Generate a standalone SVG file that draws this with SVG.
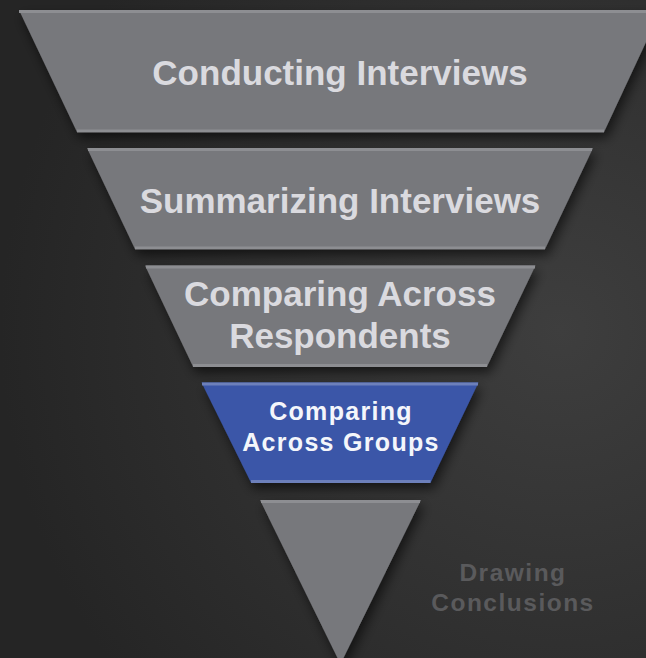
<svg xmlns="http://www.w3.org/2000/svg" width="646" height="658" viewBox="0 0 646 658">
<defs>
<radialGradient id="bg" cx="560" cy="330" r="560" gradientUnits="userSpaceOnUse">
<stop offset="0" stop-color="#3e3e3e"/>
<stop offset="1" stop-color="#252525"/>
</radialGradient>
<filter id="sh" x="-20%" y="-20%" width="140%" height="150%">
<feDropShadow dx="3" dy="6" stdDeviation="6" flood-color="#000" flood-opacity="0.6"/>
</filter>
<style>
.g{fill:#77787c}
.b{fill:#3a56a8}
.ge{stroke:#8d8e92;stroke-width:3}
.be{stroke:#6d80bb;stroke-width:3}
text{font-family:"Liberation Sans",Arial,Helvetica,sans-serif;font-weight:bold;text-anchor:middle}
.t{fill:#dadadf;font-size:35px}
.tb{fill:#f4f6fb;font-size:25px;letter-spacing:1.3px}
.td{fill:#5a5a5c;font-size:24.5px;letter-spacing:1.5px}
</style>
</defs>
<rect width="646" height="658" fill="url(#bg)"/>
<g id="connectors"/>
<g id="conducting-interviews">
<polygon class="g" filter="url(#sh)" points="19,10 661,10 604,132 77,132"/>
<line class="ge" x1="19" y1="11.5" x2="661" y2="11.5"/>
<line class="ge" x1="77" y1="131" x2="604" y2="131" stroke-width="2"/>
<text class="t" x="340" y="85">Conducting Interviews</text>
</g>
<g id="summarizing-interviews">
<polygon class="g" filter="url(#sh)" points="87,148 593,148 545,249 135,249"/>
<line class="ge" x1="88" y1="149.5" x2="592" y2="149.5"/>
<line class="ge" x1="135" y1="248" x2="545" y2="248" stroke-width="2"/>
<text class="t" x="340" y="213">Summarizing Interviews</text>
</g>
<g id="comparing-across-respondents">
<polygon class="g" filter="url(#sh)" points="145,265.5 535.5,265.5 487,366.5 193,366.5"/>
<line class="ge" x1="146" y1="267" x2="535" y2="267"/>
<line class="ge" x1="193" y1="365.5" x2="487" y2="365.5" stroke-width="2"/>
<text class="t" x="340" y="306">Comparing Across</text>
<text class="t" x="340" y="348">Respondents</text>
</g>
<g id="comparing-across-groups">
<polygon class="b" filter="url(#sh)" points="201.5,382.5 478.5,382.5 430.5,482.5 251,482.5"/>
<line class="be" x1="202" y1="384" x2="478" y2="384"/>
<line class="be" x1="251" y1="481.5" x2="430.5" y2="481.5" stroke-width="2"/>
<text class="tb" x="341" y="420">Comparing</text>
<text class="tb" x="341" y="451">Across Groups</text>
</g>
<g id="drawing-conclusions">
<polygon class="g" filter="url(#sh)" points="260,500 421,500 340.5,664"/>
<line class="ge" x1="261" y1="501.5" x2="420" y2="501.5"/>
<text class="td" x="513" y="581">Drawing</text>
<text class="td" x="513" y="611">Conclusions</text>
</g>
</svg>
